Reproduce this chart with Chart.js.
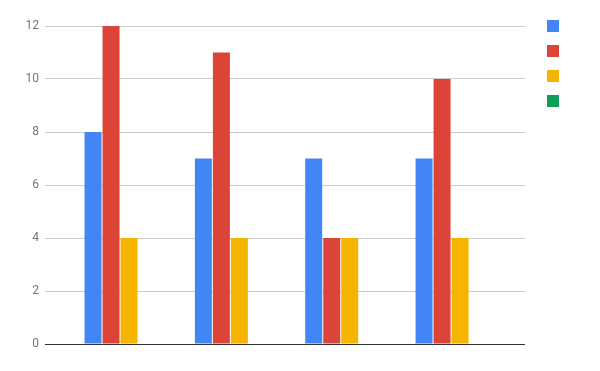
<!DOCTYPE html>
<html>
<head>
<meta charset="utf-8">
<script src="https://cdn.jsdelivr.net/npm/chart.js@4"></script>
<style>
  html, body { margin: 0; padding: 0; background: #ffffff; }
  canvas { display: block; }
</style>
</head>
<body>
<canvas id="chart" width="600" height="371"></canvas>
<script>
// Chart data
const categories = ['A', 'B', 'C', 'D'];
const seriesNames = ['', '', '', ''];
const blueValues = [8, 7, 7, 7];
const redValues = [12, 11, 4, 10];
const yellowValues = [4, 4, 4, 4];
const greenValues = [null, null, null, null];
const yTicks = [0, 2, 4, 6, 8, 10, 12];

const seriesColors = ['#4285F4', '#DB4437', '#F4B400', '#0F9D58'];
const seriesValues = [blueValues, redValues, yellowValues, greenValues];

const datasets = seriesValues.map((values, s) => ({
  label: seriesNames[s],
  data: values.map((v, i) => ({ x: i, y: v })),
  backgroundColor: seriesColors[s],
  borderWidth: 0,
  categoryPercentage: 0.6525,
  barPercentage: 0.944
}));

// Moves the legend column up and right of its default slot beside the plot
const legendNudge = {
  id: 'legendNudge',
  afterLayout(chart) {
    const lg = chart.legend;
    if (!lg) return;
    lg.left += 9; lg.right += 9;
    lg.top -= 19; lg.bottom -= 19;
  }
};

Chart.defaults.font.family = 'Roboto, "Liberation Sans", Arial, sans-serif';

new Chart(document.getElementById('chart'), {
  type: 'bar',
  data: { datasets },
  plugins: [legendNudge],
  options: {
    responsive: false,
    animation: false,
    layout: { padding: { top: 26, right: 34, bottom: 27, left: 0 } },
    plugins: {
      tooltip: { enabled: false },
      legend: {
        position: 'right',
        align: 'start',
        labels: { boxWidth: 12, boxHeight: 12, padding: 13, font: { size: 12 } }
      }
    },
    scales: {
      x: {
        type: 'linear',
        display: false,
        offset: false,
        min: -0.68,
        max: 3.67,
        afterBuildTicks: s => { s.ticks = categories.map((_, i) => ({ value: i })); }
      },
      y: {
        min: 0,
        max: 12,
        afterBuildTicks: s => { s.ticks = yTicks.map(v => ({ value: v })); },
        afterFit: s => { s.width = 45; },
        border: { display: false },
        grid: {
          drawTicks: false,
          lineWidth: 1,
          color: ctx => (ctx.tick && ctx.tick.value === 0 ? '#333333' : '#cccccc')
        },
        ticks: {
          padding: 6,
          color: '#757575',
          font: { size: 12 }
        }
      }
    }
  }
});
</script>
</body>
</html>
